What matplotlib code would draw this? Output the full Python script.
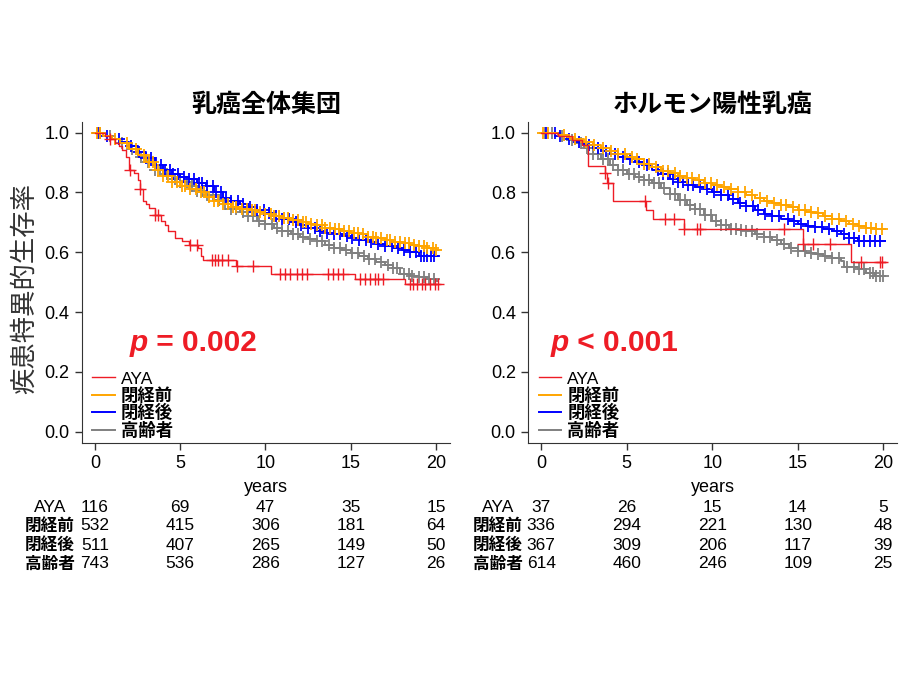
import numpy as np
import matplotlib
matplotlib.use("Agg")
from matplotlib import pyplot as plt
from matplotlib.transforms import blended_transform_factory

plt.rcParams['font.family'] = ['Liberation Sans', 'Noto Sans CJK JP', 'DejaVu Sans']

groups = ['AYA', '閉経前', '閉経後', '高齢者']
colors = ['#ee1c25', '#ffa500', '#0000ff', '#808080']
titles = ['乳癌全体集団', 'ホルモン陽性乳癌']
pvals = [' = 0.002', ' < 0.001']
risk_times = [0, 5, 10, 15, 20]

# --- 乳癌全体集団 (step knots: time, survival) ---
l_aya_t = [0, 0.6, 0.9, 1.2, 1.4, 1.6, 1.8, 2.0, 2.3, 2.5, 2.65, 2.8, 3.0, 3.2, 3.5, 3.9, 4.1, 4.3, 4.7, 5.1, 5.5, 6.05, 6.25, 6.35, 8.3, 10.35, 15.25, 18.2]
l_aya_s = [1.0, 0.99, 0.977, 0.966, 0.955, 0.943, 0.92, 0.876, 0.865, 0.843, 0.81, 0.77, 0.76, 0.748, 0.726, 0.704, 0.69, 0.67, 0.648, 0.636, 0.625, 0.614, 0.586, 0.575, 0.553, 0.528, 0.512, 0.495]
l_aya_c = [0.9, 2.05, 2.65, 3.5, 3.7, 5.6, 6.0, 6.84, 7.04, 7.23, 7.43, 7.82, 8.31, 9.29, 10.85, 11.14, 11.44, 11.83, 12.12, 12.41, 13.69, 13.98, 14.27, 14.56, 15.54, 15.84, 16.13, 16.42, 16.62, 16.91, 18.48, 18.67, 18.87, 19.16, 19.35, 19.65, 19.94, 20.1]

l_pre_t = [0, 0.5, 1.0, 1.5, 2.0, 2.5, 3.0, 3.5, 4.0, 4.5, 5.0, 5.5, 6.0, 6.5, 7.0, 7.5, 8.0, 8.5, 9.0, 9.5, 10.0, 10.5, 11.0, 11.5, 12.0, 12.5, 13.0, 13.5, 14.0, 14.5, 15.0, 15.5, 16.0, 16.5, 17.0, 17.5, 18.0, 18.5, 19.0, 19.5, 20.0]
l_pre_s = [1.0, 0.99, 0.98, 0.965, 0.945, 0.925, 0.9, 0.875, 0.855, 0.835, 0.82, 0.81, 0.8, 0.785, 0.77, 0.76, 0.752, 0.746, 0.74, 0.734, 0.727, 0.72, 0.714, 0.708, 0.7, 0.695, 0.69, 0.682, 0.676, 0.67, 0.665, 0.66, 0.652, 0.646, 0.64, 0.635, 0.63, 0.625, 0.62, 0.613, 0.607]
l_pre_c = [0.1, 0.3, 1.2, 1.9, 2.4, 2.9, 3.2, 3.4, 3.7, 4.0, 4.3, 4.5, 4.8, 5.1, 5.3, 5.6, 5.9, 6.2, 6.4, 6.7, 7.0, 7.2, 7.5, 7.8, 8.1, 8.3, 8.6, 8.9, 9.2, 9.4, 9.7, 10.0, 10.3, 10.5, 10.8, 11.1, 11.3, 11.6, 11.9, 12.2, 12.4, 12.7, 13.0, 13.3, 13.5, 13.8, 14.1, 14.3, 14.6, 14.9, 15.2, 15.4, 15.7, 16.0, 16.3, 16.5, 16.8, 17.1, 17.3, 17.6, 17.9, 18.2, 18.4, 18.7, 19.0, 19.3, 19.5, 19.8, 20.0]

l_post_t = [0, 0.5, 1.0, 1.5, 2.0, 2.5, 3.0, 3.5, 4.0, 4.5, 5.0, 5.5, 6.0, 6.5, 7.0, 7.5, 8.0, 8.5, 9.0, 9.5, 10.0, 10.5, 11.0, 11.5, 12.0, 12.5, 13.0, 13.5, 14.0, 14.5, 15.0, 15.5, 16.0, 16.5, 17.0, 17.5, 18.0, 18.5, 19.0]
l_post_s = [1.0, 0.99, 0.98, 0.97, 0.955, 0.935, 0.915, 0.89, 0.875, 0.86, 0.85, 0.845, 0.83, 0.82, 0.8, 0.78, 0.77, 0.76, 0.75, 0.74, 0.73, 0.72, 0.71, 0.7, 0.69, 0.68, 0.672, 0.665, 0.66, 0.655, 0.648, 0.642, 0.635, 0.628, 0.62, 0.615, 0.608, 0.6, 0.588]
l_post_c = [0.2, 0.7, 1.4, 2.1, 2.6, 3.0, 3.3, 3.6, 3.9, 4.1, 4.4, 4.6, 4.9, 5.2, 5.5, 5.8, 6.1, 6.3, 6.6, 6.9, 7.1, 7.4, 7.7, 8.0, 8.4, 8.7, 9.1, 9.5, 9.9, 10.2, 10.6, 11.0, 11.4, 11.8, 12.1, 12.5, 12.9, 13.2, 13.6, 14.0, 14.4, 14.8, 15.1, 15.5, 15.9, 16.2, 16.6, 17.0, 17.4, 17.8, 18.1, 18.5, 18.8, 19.1, 19.3, 19.5, 19.7, 19.9]

l_old_t = [0, 0.5, 1.0, 1.5, 2.0, 2.5, 3.0, 3.5, 4.0, 4.5, 5.0, 5.5, 6.0, 6.5, 7.0, 7.5, 8.0, 8.5, 9.0, 9.5, 10.0, 10.5, 11.0, 11.5, 12.0, 12.5, 13.0, 13.5, 14.0, 14.5, 15.0, 15.5, 16.0, 16.5, 17.0, 17.5, 17.9, 18.5, 19.0, 19.5, 20.0]
l_old_s = [1.0, 0.99, 0.98, 0.965, 0.945, 0.92, 0.9, 0.875, 0.86, 0.845, 0.835, 0.82, 0.805, 0.79, 0.775, 0.76, 0.745, 0.735, 0.72, 0.705, 0.695, 0.682, 0.67, 0.66, 0.652, 0.645, 0.636, 0.625, 0.615, 0.607, 0.597, 0.587, 0.578, 0.568, 0.558, 0.547, 0.527, 0.522, 0.517, 0.51, 0.503]
l_old_c = [0.3, 0.9, 1.6, 2.2, 2.7, 3.1, 3.5, 3.8, 4.2, 4.7, 5.0, 5.4, 5.7, 6.0, 6.3, 6.6, 6.9, 7.3, 7.6, 8.0, 8.3, 8.7, 9.0, 9.3, 9.6, 10.0, 10.4, 10.7, 11.0, 11.3, 11.6, 11.9, 12.2, 12.6, 13.0, 13.3, 13.7, 14.0, 14.4, 14.7, 15.1, 15.4, 15.8, 16.1, 16.4, 16.8, 17.2, 17.5, 17.7, 18.1, 18.4, 18.6, 19.0, 19.3, 19.6, 19.9]

# --- ホルモン陽性乳癌 ---
r_aya_t = [0, 1.0, 1.8, 2.4, 2.75, 3.7, 3.85, 4.2, 6.1, 6.55, 8.35, 15.3, 18.1]
r_aya_s = [1.0, 0.99, 0.975, 0.96, 0.887, 0.865, 0.832, 0.772, 0.742, 0.712, 0.678, 0.629, 0.567]
r_aya_c = [3.7, 3.9, 6.08, 7.25, 7.77, 8.36, 9.1, 9.3, 14.2, 15.3, 15.9, 16.9, 18.7, 19.8, 19.9]

r_pre_t = [0, 0.5, 1.0, 1.5, 2.0, 2.5, 3.0, 3.5, 4.0, 4.5, 5.0, 5.5, 6.0, 6.5, 7.0, 7.5, 8.0, 8.5, 9.0, 9.5, 10.0, 10.5, 11.0, 11.5, 12.0, 12.5, 13.0, 13.5, 14.0, 14.5, 15.0, 15.5, 16.0, 16.5, 17.0, 17.5, 18.0, 18.5, 19.0, 19.5]
r_pre_s = [1.0, 0.998, 0.993, 0.985, 0.98, 0.97, 0.96, 0.95, 0.94, 0.93, 0.92, 0.91, 0.895, 0.885, 0.873, 0.865, 0.855, 0.847, 0.84, 0.832, 0.825, 0.818, 0.81, 0.8, 0.79, 0.78, 0.77, 0.763, 0.757, 0.75, 0.742, 0.736, 0.73, 0.722, 0.712, 0.703, 0.696, 0.688, 0.682, 0.677]
r_pre_c = [0.1, 0.4, 1.3, 2.0, 2.6, 3.1, 3.6, 4.1, 4.5, 4.9, 5.3, 5.6, 6.0, 6.3, 6.7, 7.1, 7.4, 7.8, 8.1, 8.5, 8.8, 9.2, 9.6, 9.9, 10.3, 10.7, 11.1, 11.5, 11.9, 12.3, 12.8, 13.2, 13.6, 14.0, 14.3, 14.7, 15.1, 15.4, 15.8, 16.2, 16.6, 17.0, 17.4, 17.8, 18.2, 18.6, 19.0, 19.3, 19.6, 19.9]

r_post_t = [0, 0.5, 1.0, 1.5, 2.0, 2.5, 3.0, 3.5, 4.0, 4.5, 5.0, 5.5, 6.0, 6.5, 7.0, 7.5, 8.0, 8.5, 9.0, 9.5, 10.0, 10.5, 11.0, 11.5, 12.0, 12.5, 13.0, 13.5, 14.0, 14.5, 15.0, 15.5, 16.0, 16.5, 17.0, 17.5, 18.0, 18.5]
r_post_s = [1.0, 0.997, 0.99, 0.98, 0.97, 0.96, 0.95, 0.94, 0.93, 0.92, 0.91, 0.9, 0.89, 0.875, 0.86, 0.845, 0.835, 0.825, 0.817, 0.81, 0.8, 0.79, 0.778, 0.765, 0.755, 0.742, 0.728, 0.72, 0.712, 0.703, 0.695, 0.689, 0.683, 0.677, 0.672, 0.66, 0.647, 0.638]
r_post_c = [0.3, 0.8, 1.1, 1.6, 2.2, 2.8, 3.3, 3.8, 4.3, 4.8, 5.2, 5.7, 6.2, 6.8, 7.1, 7.4, 7.7, 8.0, 8.3, 8.6, 8.9, 9.3, 9.7, 10.1, 10.5, 10.9, 11.2, 11.6, 12.0, 12.4, 12.7, 13.1, 13.5, 13.9, 14.4, 14.8, 15.2, 15.6, 16.0, 16.4, 16.8, 17.3, 17.7, 18.0, 18.3, 18.6, 18.9, 19.2, 19.5, 19.8]

r_old_t = [0, 0.5, 1.0, 1.5, 2.0, 2.5, 3.0, 3.5, 4.0, 4.5, 5.0, 5.5, 6.0, 6.5, 7.0, 7.5, 8.0, 8.5, 9.0, 9.5, 10.0, 10.5, 11.0, 11.5, 12.0, 12.5, 13.0, 13.5, 14.0, 14.5, 15.0, 15.5, 16.0, 16.5, 17.0, 17.5, 17.7, 18.5, 19.0, 19.5]
r_old_s = [1.0, 0.997, 0.99, 0.975, 0.965, 0.95, 0.93, 0.91, 0.89, 0.875, 0.86, 0.85, 0.84, 0.83, 0.815, 0.795, 0.775, 0.758, 0.745, 0.725, 0.705, 0.69, 0.678, 0.675, 0.67, 0.66, 0.65, 0.64, 0.628, 0.615, 0.603, 0.598, 0.593, 0.588, 0.582, 0.57, 0.55, 0.543, 0.532, 0.522]
r_old_c = [0.2, 0.6, 1.2, 1.8, 2.3, 2.7, 3.0, 3.3, 3.6, 3.9, 4.2, 4.5, 4.8, 5.1, 5.4, 5.7, 6.0, 6.3, 6.6, 6.9, 7.2, 7.5, 7.8, 8.1, 8.4, 8.7, 9.0, 9.3, 9.6, 9.9, 10.2, 10.5, 10.8, 11.1, 11.4, 11.7, 12.0, 12.3, 12.6, 13.0, 13.4, 13.8, 14.2, 14.6, 15.0, 15.4, 15.8, 16.2, 16.6, 17.0, 17.4, 17.9, 18.3, 18.6, 18.9, 19.2, 19.4, 19.6, 19.8, 20.0]

# numbers at risk
l_risk_aya = [116, 69, 47, 35, 15]
l_risk_pre = [532, 415, 306, 181, 64]
l_risk_post = [511, 407, 265, 149, 50]
l_risk_old = [743, 536, 286, 127, 26]
r_risk_aya = [37, 26, 15, 14, 5]
r_risk_pre = [336, 294, 221, 130, 48]
r_risk_post = [367, 309, 206, 117, 39]
r_risk_old = [614, 460, 246, 109, 25]

panels = [
    [(l_aya_t, l_aya_s, l_aya_c), (l_pre_t, l_pre_s, l_pre_c),
     (l_post_t, l_post_s, l_post_c), (l_old_t, l_old_s, l_old_c)],
    [(r_aya_t, r_aya_s, r_aya_c), (r_pre_t, r_pre_s, r_pre_c),
     (r_post_t, r_post_s, r_post_c), (r_old_t, r_old_s, r_old_c)],
]
risks = [[l_risk_aya, l_risk_pre, l_risk_post, l_risk_old],
         [r_risk_aya, r_risk_pre, r_risk_post, r_risk_old]]


def km_plot(ax, t, s, c, color, label, t_end=20.1):
    t = np.array(t + [t_end])
    s = np.array(s + [s[-1]])
    lw = 1.0 if label == 'AYA' else 1.4
    ax.step(t, s, where='post', color=color, lw=lw, label=label)
    c = np.array(c)
    idx = np.searchsorted(t, c, side='right') - 1
    ax.plot(c, s[idx], ls='none', marker='+', ms=8, mew=1.0 if label == 'AYA' else 1.3,
            color=color)


fig = plt.figure(figsize=(9, 6.75), dpi=100)
axes = [fig.add_axes([0.091, 0.344, 0.409, 0.476]),
        fig.add_axes([0.587, 0.344, 0.41, 0.476])]
label_x = [50 / 900, 498 / 900]
row_y = [1 - 507 / 675, 1 - 526 / 675, 1 - 545 / 675, 1 - 564 / 675]

for k, ax in enumerate(axes):
    # draw order: gray, blue, orange, red so red stays visible
    for i in [3, 2, 1, 0]:
        t, s, c = panels[k][i]
        km_plot(ax, t, s, c, colors[i], groups[i])
    ax.set_xlim(-0.76, 20.82)
    ax.set_ylim(-0.037, 1.037)
    ax.set_xticks(risk_times)
    ax.set_yticks([0.0, 0.2, 0.4, 0.6, 0.8, 1.0])
    ax.set_yticklabels(['0.0', '0.2', '0.4', '0.6', '0.8', '1.0'])
    ax.tick_params(direction='out', length=5, width=1, labelsize=13, color='#333333', pad=4)
    for sp in ['top', 'right']:
        ax.spines[sp].set_visible(False)
    for sp in ['left', 'bottom']:
        ax.spines[sp].set_color('#333333')
    ax.set_xlabel('years', fontsize=13, labelpad=5)
    ax.set_title(titles[k], fontsize=18, fontweight='bold', pad=7)

    handles, labels = ax.get_legend_handles_labels()
    order = [labels.index(g) for g in groups]
    leg = ax.legend([handles[j] for j in order], [labels[j] for j in order],
                    loc='lower left', bbox_to_anchor=(-0.005, -0.025), frameon=False,
                    handlelength=1.3, handletextpad=0.35, labelspacing=0.02,
                    borderaxespad=0.3, prop={'size': 12.5, 'weight': 'bold'})
    leg.get_texts()[0].set_fontweight('normal')

    ptxt = ax.text(2.05 if k == 0 else 0.55, 0.27, 'p', color='#ee1c25', fontsize=21.5,
                   fontweight='bold', fontstyle='italic')
    ax.annotate(pvals[k], xycoords=ptxt, xy=(1, 0), va='bottom', color='#ee1c25',
                fontsize=21.5, fontweight='bold')

    # risk table
    tr = blended_transform_factory(ax.transData, fig.transFigure)
    for i, g in enumerate(groups):
        fig.text(label_x[k], row_y[i], g, ha='center', va='center',
                 fontsize=12 if g != 'AYA' else 12.5,
                 fontweight='bold' if g != 'AYA' else 'normal')
        for j, tt in enumerate(risk_times):
            ax.text(tt, row_y[i], str(risks[k][i][j]), ha='center', va='center',
                    fontsize=12.5, transform=tr)

fig.text(0.027, 0.573, '疾患特異的生存率', rotation=90, ha='center', va='center',
         fontsize=19, color='#333333')

fig.savefig('out.png', dpi=100)
